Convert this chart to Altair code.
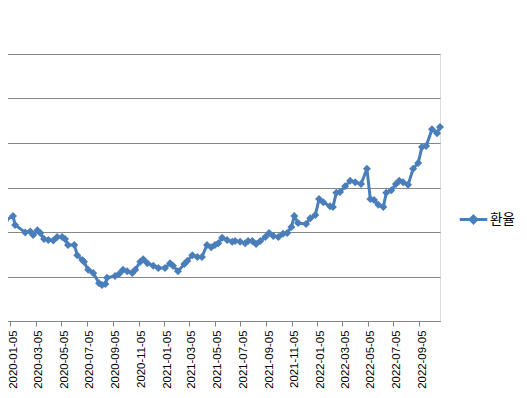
import altair as alt
import pandas as pd

series_name = "환율"

dates = [
    "2019-12-14", "2019-12-23", "2020-01-11", "2020-01-16", "2020-02-09", "2020-02-21",
    "2020-02-28", "2020-03-09", "2020-03-16", "2020-03-25", "2020-04-04", "2020-04-16",
    "2020-04-25", "2020-05-07", "2020-05-14", "2020-05-21", "2020-06-05", "2020-06-12",
    "2020-06-24", "2020-06-28", "2020-07-08", "2020-07-20", "2020-08-03", "2020-08-10",
    "2020-08-18", "2020-08-22", "2020-09-10", "2020-09-20", "2020-09-29", "2020-10-09",
    "2020-10-21", "2020-10-28", "2020-11-09", "2020-11-16", "2020-11-26", "2020-12-10",
    "2020-12-22", "2021-01-07", "2021-01-19", "2021-01-26", "2021-02-07", "2021-02-22",
    "2021-03-01", "2021-03-13", "2021-03-25", "2021-04-05", "2021-04-17", "2021-04-27",
    "2021-05-06", "2021-05-14", "2021-05-23", "2021-06-04", "2021-06-16", "2021-06-23",
    "2021-07-05", "2021-07-17", "2021-07-24", "2021-08-03", "2021-08-12", "2021-08-22",
    "2021-09-03", "2021-09-12", "2021-09-22", "2021-10-04", "2021-10-15", "2021-10-25",
    "2021-11-04", "2021-11-11", "2021-11-20", "2021-12-09", "2021-12-19", "2021-12-31",
    "2022-01-09", "2022-01-19", "2022-02-04", "2022-02-11", "2022-02-19", "2022-02-28",
    "2022-03-12", "2022-03-24", "2022-04-05", "2022-04-19", "2022-05-03", "2022-05-11",
    "2022-05-20", "2022-05-30", "2022-06-11", "2022-06-18", "2022-06-30", "2022-07-11",
    "2022-07-19", "2022-07-28", "2022-08-09", "2022-08-21", "2022-09-02", "2022-09-11",
    "2022-09-21", "2022-10-05", "2022-10-17", "2022-10-24",
]

rates = [
    1222, 1225, 1236, 1216, 1199, 1201, 1193, 1204, 1198, 1184, 1182, 1181,
    1189, 1189, 1184, 1171, 1171, 1148, 1137, 1133, 1115, 1108, 1085, 1081,
    1083, 1097, 1101, 1106, 1115, 1112, 1108, 1115, 1133, 1139, 1130, 1124,
    1119, 1119, 1130, 1124, 1112, 1128, 1135, 1148, 1144, 1144, 1171, 1166,
    1171, 1175, 1187, 1182, 1178, 1180, 1178, 1175, 1180, 1180, 1173, 1180,
    1189, 1198, 1191, 1189, 1196, 1198, 1211, 1236, 1220, 1218, 1231, 1238,
    1274, 1267, 1258, 1256, 1288, 1290, 1303, 1315, 1312, 1308, 1342, 1274,
    1272, 1261, 1256, 1288, 1294, 1308, 1315, 1312, 1306, 1342, 1355, 1391,
    1393, 1431, 1422, 1436,
]

tick_dates = [
    "2020-01-05", "2020-03-05", "2020-05-05", "2020-07-05", "2020-09-05", "2020-11-05",
    "2021-01-05", "2021-03-05", "2021-05-05", "2021-07-05", "2021-09-05", "2021-11-05",
    "2022-01-05", "2022-03-05", "2022-05-05", "2022-07-05", "2022-09-05",
]

y_gridlines = [1000, 1100, 1200, 1300, 1400, 1500, 1600]

df = pd.DataFrame({
    "date": [d + "T00:00:00" for d in dates],
    "rate": rates,
    "series": [series_name] * len(dates),
})


def to_dt(s):
    y, m, d = s.split("-")
    return alt.DateTime(year=int(y), month=int(m), date=int(d))


BLUE = "#4A7EBB"
GRID = "#868686"

x_enc = alt.X(
    "date:T",
    scale=alt.Scale(domain=[to_dt("2019-12-11"), to_dt("2022-10-24")]),
    axis=alt.Axis(
        title=None,
        values=[to_dt(t) for t in tick_dates],
        format="%Y-%m-%d",
        labelAngle=-90,
        labelAlign="right",
        labelBaseline="line-top",
        labelLineHeight=6,
        labelFontSize=11.4,
        labelFont="Liberation Sans",
        labelColor="#000000",
        labelPadding=4,
        tickSize=5,
        tickColor=GRID,
        domainColor=GRID,
        grid=False,
        labelOverlap=False,
    ),
)

y_enc = alt.Y(
    "rate:Q",
    scale=alt.Scale(domain=[1000, 1600], nice=False, zero=False),
    axis=alt.Axis(
        title=None,
        values=y_gridlines,
        labels=False,
        ticks=False,
        domain=False,
        grid=True,
        gridColor=GRID,
        gridWidth=1,
    ),
)

line = alt.Chart(df).mark_line(color=BLUE, strokeWidth=3).encode(x=x_enc, y=y_enc)

points = alt.Chart(df).mark_point(
    shape="diamond", filled=True, size=64, opacity=1
).encode(
    x=x_enc,
    y=y_enc,
    color=alt.Color(
        "series:N",
        scale=alt.Scale(range=[BLUE]),
        legend=alt.Legend(
            title=None,
            orient="none",
            legendX=458,
            legendY=150,
            symbolType="M-1,0L1,0M0,-0.24L0.24,0L0,0.24L-0.24,0Z",
            symbolSize=760,
            symbolStrokeWidth=3,
            symbolStrokeColor=BLUE,
            symbolFillColor=BLUE,
            labelFont="Noto Sans CJK KR",
            labelFontSize=13.5,
            labelColor="#000000",
            labelOffset=1,
        ),
    ),
)

chart = alt.layer(line, points).properties(
    width=440,
    height=267,
    autosize=alt.AutoSizeParams(type="none"),
    padding={"left": -8, "top": 46, "right": 79, "bottom": 69},
).configure_view(stroke=None).configure(background="#ffffff")

chart.save("out.html", embed_options={"renderer": "svg", "actions": False})
